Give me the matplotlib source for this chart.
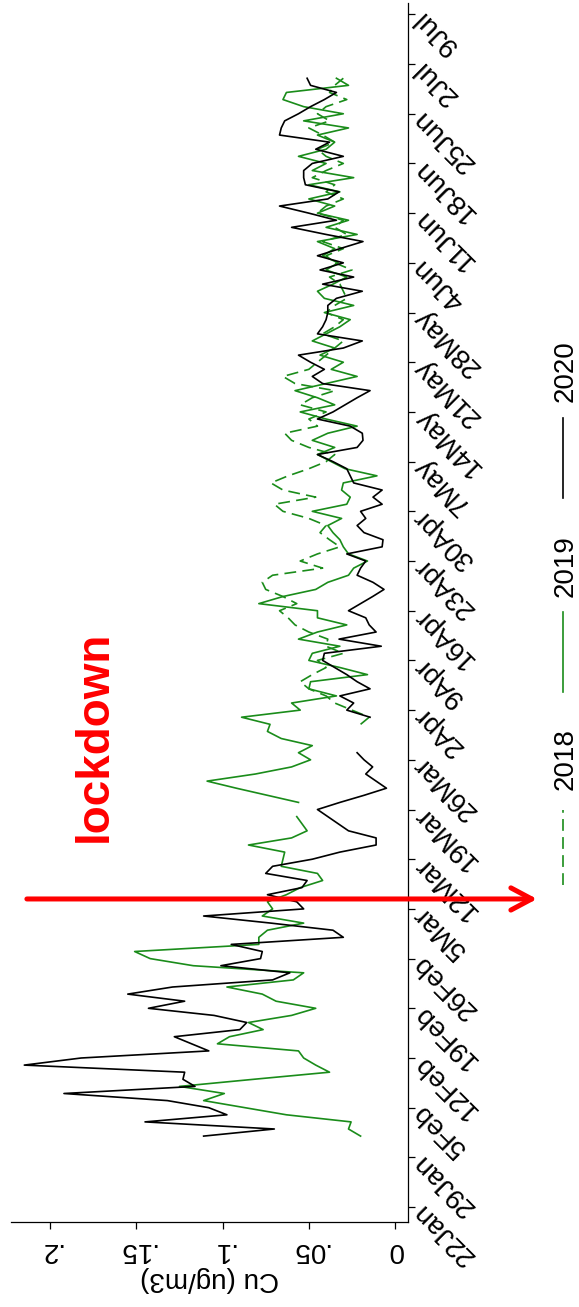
import numpy as np
import matplotlib
matplotlib.use('Agg')
import matplotlib.pyplot as plt
from matplotlib.lines import Line2D

plt.rcParams['font.family'] = ['Liberation Sans', 'DejaVu Sans']
plt.rcParams['lines.scale_dashes'] = False

# ---------------- data ----------------
date_labels = ["22Jan", "29Jan", "5Feb", "12Feb", "19Feb", "26Feb", "5Mar", "12Mar",
               "19Mar", "26Mar", "2Apr", "9Apr", "16Apr", "23Apr", "30Apr", "7May",
               "14May", "21May", "28May", "4Jun", "11Jun", "18Jun", "25Jun", "2Jul", "9Jul"]
tick_days = list(range(0, 169, 7))          # day 0 = 22Jan
value_ticks = [0, 0.05, 0.1, 0.15, 0.2]
value_labels = ["0", ".05", ".1", ".15", ".2"]
lockdown_day = 43.4

start_2020 = 10
cu_2020 = [0.111, 0.070, 0.145, 0.0975, 0.108, 0.132, 0.192, 0.116, 0.123, 0.122,
           0.215, 0.182, 0.108, 0.118, 0.128, 0.090, 0.086, 0.105, 0.143, 0.122,
           0.155, 0.129, 0.071, 0.061, 0.101, 0.078, 0.077, 0.095, 0.030, 0.036,
           0.072, 0.111, 0.053, 0.057, 0.074, 0.054, 0.051, 0.075, 0.071, 0.048,
           0.032, 0.011, 0.011, 0.027, 0.033, 0.039, 0.045, 0.032, 0.018, 0.005,
           0.011, 0.017, 0.013, 0.018, 0.022, None, None, None, None, 0.0145,
           0.028, 0.024, 0.032, 0.0145, 0.022, 0.028, 0.035, 0.042, 0.041, 0.008,
           0.0325, 0.011, 0.015, 0.017, 0.027, 0.020, 0.013, 0.0064, 0.0128, 0.022,
           0.020, 0.017, 0.028, 0.0075, 0.007, 0.018, 0.022, 0.017, 0.020, 0.0075,
           0.0128, 0.0075, 0.024, 0.026, 0.028, 0.036, 0.045, 0.022, 0.0186, 0.019,
           0.026, 0.045, 0.036, 0.029, 0.022, 0.0145, 0.042, 0.048, 0.041, 0.049,
           0.056, 0.030, 0.019, 0.045, 0.042, 0.040, 0.039, 0.039, 0.034, 0.019,
           0.042, 0.024, 0.0435, 0.030, 0.045, 0.032, 0.0186, 0.040, 0.060, 0.034,
           0.050, 0.067, 0.039, 0.0325, 0.052, 0.053, 0.053, 0.048, 0.030, 0.046,
           0.038, 0.067, 0.066, 0.064, 0.056, 0.049, 0.041, 0.034, 0.049, 0.051]

start_2019 = 10
cu_2019 = [0.020, 0.027, 0.0255, 0.063, 0.087, 0.111, 0.099, 0.125, 0.082, 0.038,
           0.046, 0.053, 0.056, 0.103, 0.096, 0.0765, 0.085, 0.060, 0.046, 0.069,
           0.077, 0.0975, 0.059, 0.053, 0.117, 0.142, 0.151, 0.079, 0.079, 0.074,
           0.053, 0.077, 0.071, 0.074, 0.063, 0.055, 0.042, 0.045, 0.066, 0.065,
           0.064, 0.085, 0.060, 0.051, 0.054, 0.057, None, 0.056, 0.074, 0.092,
           0.109, 0.081, 0.060, 0.049, 0.056, 0.048, 0.066, 0.074, 0.0725, 0.089,
           0.055, 0.060, 0.034, 0.050, 0.049, 0.016, 0.032, 0.050, 0.048, 0.032,
           0.056, 0.045, 0.028, 0.045, 0.045, 0.079, 0.065, 0.046, 0.039, 0.027,
           0.024, 0.016, 0.027, 0.030, 0.032, 0.036, 0.039, 0.031, 0.048, 0.028,
           0.026, 0.031, 0.030, 0.0105, 0.029, 0.037, 0.045, 0.035, 0.048, 0.039,
           0.022, 0.040, 0.055, 0.035, 0.045, 0.058, 0.040, 0.022, 0.037, 0.030,
           0.0435, 0.035, 0.048, 0.040, 0.032, 0.026, 0.041, 0.024, 0.041, 0.045,
           0.036, 0.028, 0.040, 0.033, 0.042, 0.035, 0.045, 0.022, 0.040, 0.027,
           0.045, 0.035, 0.050, 0.032, 0.050, 0.024, 0.048, 0.040, 0.056, 0.040,
           0.035, 0.045, 0.027, 0.053, 0.030, 0.053, 0.065, 0.063, 0.027, 0.034]

start_2018 = 68
cu_2018 = [0.020, 0.015, 0.025, 0.035, 0.040, 0.050, 0.055, 0.048, 0.040, 0.045,
           0.030, 0.040, 0.039, 0.050, 0.058, 0.062, 0.067, 0.057, 0.065, 0.075,
           0.077, 0.071, 0.042, 0.055, 0.045, 0.032, 0.038, 0.0435, 0.040, 0.050,
           0.065, 0.070, 0.046, 0.065, 0.072, 0.062, 0.050, 0.040, 0.035, 0.050,
           0.060, 0.064, 0.045, 0.050, 0.040, 0.055, 0.048, 0.035, 0.058, 0.065,
           0.050, 0.045, 0.040, 0.035, 0.030, 0.042, 0.035, 0.030, 0.040, 0.035,
           0.028, 0.030, 0.032, 0.038, 0.025, 0.035, 0.040, 0.030, 0.042, 0.028,
           0.035, 0.030, 0.045, 0.040, 0.030, 0.040, 0.035, 0.048, 0.040, 0.030,
           0.040, 0.045, 0.035, 0.042, 0.050, 0.038, 0.045, 0.040, 0.028, 0.038,
           0.035, 0.030]

GREEN = '#1a8c1a'
BLACK = '#000000'
RED = '#ff0000'

def series(start, vals):
    d = np.arange(start, start + len(vals))
    v = np.array([np.nan if x is None else x for x in vals], dtype=float)
    return d, v

W, H = 579, 1307
fig = plt.figure(figsize=(W / 100, H / 100), dpi=100)
ax = fig.add_axes([11 / W, 1 - 1222 / H, (408 - 11) / W, (1222 - 3) / H])

for start, vals, col, ls in [(start_2018, cu_2018, GREEN, (0, (8.5, 4.5))),
                             (start_2019, cu_2019, GREEN, '-'),
                             (start_2020, cu_2020, BLACK, '-')]:
    d, v = series(start, vals)
    ax.plot(v, d, color=col, lw=1.2, linestyle=ls)

ax.set_xlim(0.2227, -0.0075)
ax.set_ylim(-2.1, 169.6)

for s in ['top', 'left']:
    ax.spines[s].set_visible(False)
for s in ['bottom', 'right']:
    ax.spines[s].set_linewidth(0.9)

ax.yaxis.tick_right()
ax.set_yticks(tick_days)
ax.set_yticklabels(date_labels)
for lab in ax.get_yticklabels():
    lab.set_rotation(135)
    lab.set_rotation_mode('anchor')
    lab.set_ha('right')
    lab.set_va('center')
    lab.set_fontsize(20)
ax.tick_params(axis='y', direction='out', length=5, width=0.9, pad=2)

ax.set_xticks(value_ticks)
ax.set_xticklabels(value_labels, rotation=180, fontsize=20)
ax.tick_params(axis='x', direction='out', length=5, width=0.9, pad=6)
ax.set_xlabel('Cu (ug/m3)', rotation=180, fontsize=20, labelpad=2)

# lockdown arrow
trans = ax.get_yaxis_transform()
ax.annotate('', xy=(1.325, lockdown_day), xytext=(0.040, lockdown_day),
            xycoords=trans, textcoords=trans, annotation_clip=False,
            arrowprops=dict(arrowstyle='->,head_length=0.75,head_width=0.4',
                            color=RED, lw=3.6, shrinkA=0, shrinkB=0,
                            mutation_scale=20))
fig.text(95 / W, 1 - 736 / H, 'lockdown', rotation=90, color=RED, fontsize=33,
         fontweight='bold', ha='center', va='center')

# legend (vertical, rotated)
lx = 563 / W
entries = [('2018', GREEN, (0, (8.5, 4.5)), 810, 885, 759),
           ('2019', GREEN, '-', 612, 692, 566),
           ('2020', BLACK, '-', 418, 498, 371)]
for lab, col, ls, y0, y1, ty in entries:
    fig.add_artist(Line2D([lx, lx], [1 - y1 / H, 1 - y0 / H], color=col, lw=1.2,
                          linestyle=ls, transform=fig.transFigure))
    fig.text(566 / W, 1 - ty / H, lab, rotation=90, fontsize=20,
             ha='center', va='center')

fig.savefig('out.png', dpi=100, facecolor='white')
